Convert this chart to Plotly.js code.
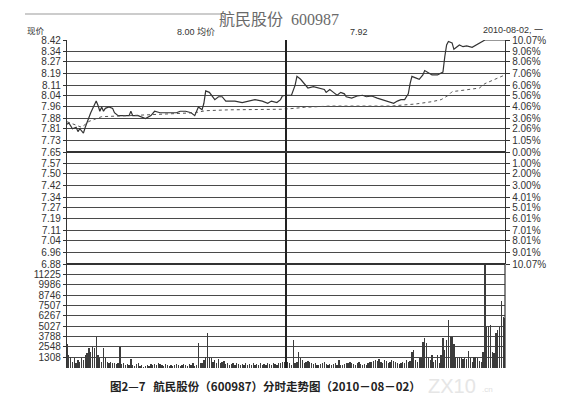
<!DOCTYPE html>
<html>
<head>
<meta charset="utf-8">
<script src="https://cdn.plot.ly/plotly-3.0.1.min.js"></script>
<style>
html,body{margin:0;padding:0;background:#fff;}
#chart{width:567px;height:413px;}
</style>
</head>
<body>
<div id="chart"></div>
<script>
// ---- data ----
const prevClose = 7.65;
const priceTickLabels = ["8.42","8.34","8.27","8.19","8.11","8.04","7.96","7.88","7.81","7.73","7.65","7.57","7.50","7.42","7.34","7.27","7.19","7.11","7.04","6.96","6.88"];
const pctTickLabels = ["10.07%","9.06%","8.06%","7.06%","6.06%","5.06%","4.06%","3.06%","2.06%","1.05%","0.00%","1.00%","2.00%","3.00%","4.01%","5.01%","6.01%","7.01%","8.01%","9.01%","10.07%"];
const volTicks = [1308,2548,3788,5027,6267,7507,8746,9986,11225];

// price line: minute index (0 = 9:30, 120 = 11:30/13:00, 240 = 15:00)
const priceMin = [0,1,3,5,6,7,9,10,13,16,17,18,19,20,21,23,25,26,28,34,35,36,39,43,46,48,51,54,57,60,62,65,68,70,72,74,75,76,78,80,81,83,85,87,92,96,100,103,107,110,112,115,117,118,120,
  123,125,126,128,130,132,135,138,141,142,144,146,148,150,152,153,156,159,162,164,167,170,173,176,179,181,183,185,187,188,189,191,193,195,196,198,200,203,205,206,207,208,209,211,212,214,215,217,219,222,224,226,227,229,240];
const priceVal = [7.84,7.85,7.81,7.82,7.79,7.81,7.78,7.82,7.92,8.00,7.97,7.93,7.96,7.93,7.95,7.96,7.95,7.92,7.90,7.90,7.93,7.90,7.90,7.88,7.90,7.93,7.92,7.92,7.92,7.92,7.93,7.93,7.92,7.90,7.96,7.94,7.985,8.07,8.06,8.03,8.01,8.03,8.03,8.00,8.00,7.99,8.00,8.01,8.00,7.985,8.00,7.99,8.01,8.035,8.04,
  8.04,8.11,8.17,8.15,8.12,8.09,8.10,8.09,8.08,8.06,8.08,8.06,8.04,8.06,8.05,8.03,8.02,8.035,8.04,8.03,8.035,8.02,8.01,8.00,7.985,8.00,8.01,8.01,8.05,8.12,8.17,8.16,8.15,8.18,8.21,8.195,8.18,8.18,8.195,8.20,8.305,8.386,8.41,8.40,8.356,8.38,8.386,8.374,8.38,8.37,8.386,8.40,8.41,8.42,8.42];

// average price line
const avgMin = [0,8,12,16,19,34,52,70,76,89,118,120,121,130,144,178,184,191,200,205,209,211,218,226,229,235,240];
const avgVal = [7.858,7.82,7.86,7.88,7.893,7.90,7.91,7.92,7.934,7.94,7.944,7.95,7.946,7.957,7.966,7.966,7.973,7.98,7.996,8.01,8.04,8.065,8.076,8.09,8.12,8.15,8.18];

// per-minute volume (hands)
const volAM = [2900,1568,1368,768,1168,568,968,768,1168,968,1568,1768,2368,1968,2568,2368,3768,1568,1168,768,2368,1168,768,568,768,568,648,488,568,2568,
  448,568,368,488,368,1048,368,248,488,568,248,368,168,248,368,248,488,368,488,368,568,488,368,248,488,368,248,368,248,368,
  488,368,248,368,488,368,248,488,368,568,248,368,3048,568,568,968,1368,4168,1368,1168,768,968,568,1048,568,768,888,488,568,368,
  488,568,368,648,488,368,488,368,568,368,488,368,568,368,488,368,568,368,488,368,568,488,368,568,488,368,568,648,768,768,900];
const volPM = [768,568,368,3368,568,768,1968,1168,968,568,768,848,768,568,448,568,368,368,448,568,688,448,368,448,368,448,568,368,968,368,
  368,448,568,568,688,568,448,368,568,688,448,368,448,368,568,688,768,848,968,848,1088,768,568,968,848,568,688,968,848,768,
  568,448,568,688,568,968,768,848,1968,2168,968,768,1168,1368,3088,3648,2968,1168,968,1568,768,968,1568,568,1568,3648,2168,3368,5768,3768,
  3768,2848,1368,1168,1368,1368,1088,1168,1088,2048,1168,768,1368,1368,1168,848,768,1900,12400,4888,5048,5168,1968,1768,4168,4568,4968,8088,6168,5968];

// ---- build ----
const volAll = volAM.concat(volPM);
const volMin = volAll.map((v, i) => i);
const priceTickVals = priceTickLabels.map(Number);

const L = 67, R = 505, T = 40, B = 368;
const px = x => (x - L) / (R - L);
const py = y => (B - y) / (B - T);
const split = py(264);

const traces = [
  {x: priceMin, y: priceVal, type: 'scatter', mode: 'lines', xaxis: 'x', yaxis: 'y',
   line: {color: '#333', width: 1.2}, hoverinfo: 'skip'},
  {x: avgMin, y: avgVal, type: 'scatter', mode: 'lines', xaxis: 'x', yaxis: 'y',
   line: {color: '#555', width: 1, dash: '3px,3px'}, hoverinfo: 'skip'},
  {x: [0, 240], y: [prevClose, prevClose], type: 'scatter', mode: 'lines', xaxis: 'x', yaxis: 'y2',
   line: {color: 'rgba(0,0,0,0)', width: 0}, hoverinfo: 'skip'},
  {x: volMin, y: volAll, type: 'bar', xaxis: 'x2', yaxis: 'y3',
   marker: {color: '#3c3c3c', line: {width: 0}}, width: 0.7, hoverinfo: 'skip'}
];

const tickFont = {family: 'Liberation Sans, Arial, sans-serif', size: 10, color: '#333'};
const cjk = 'Noto Sans CJK SC, sans-serif';

const layout = {
  width: 567, height: 413,
  margin: {l: L, r: 567 - R, t: T, b: 413 - B},
  paper_bgcolor: '#fff', plot_bgcolor: '#fff',
  showlegend: false, bargap: 0,
  xaxis: {domain: [0, 1], range: [0, 240], anchor: 'y', showticklabels: false, showgrid: false, zeroline: false, ticks: ''},
  xaxis2: {domain: [0, 1], range: [0, 240], anchor: 'y3', showticklabels: false, showgrid: false, zeroline: false, ticks: ''},
  yaxis: {domain: [split, 1], range: [6.88, 8.42], tickvals: priceTickVals, ticktext: priceTickLabels,
          showgrid: true, gridcolor: '#4a4a4a', gridwidth: 1, zeroline: false,
          showline: true, linecolor: '#333', linewidth: 1.2, ticks: 'outside', ticklen: 3, tickcolor: '#333',
          tickfont: tickFont},
  yaxis2: {overlaying: 'y', side: 'right', anchor: 'x', range: [6.88, 8.42], tickvals: priceTickVals, ticktext: pctTickLabels,
           showgrid: false, zeroline: false, showline: true, linecolor: '#333', linewidth: 1.2,
           ticks: 'outside', ticklen: 4, tickcolor: '#333', tickfont: tickFont},
  yaxis3: {domain: [0, split], range: [0, 12465], tickvals: volTicks, ticktext: volTicks.map(String),
           showgrid: true, gridcolor: '#4a4a4a', gridwidth: 1, zeroline: false,
           showline: true, linecolor: '#333', linewidth: 1.2, ticks: 'outside', ticklen: 3, tickcolor: '#333',
           tickfont: tickFont},
  shapes: [
    {type: 'line', xref: 'x', yref: 'paper', x0: 120, x1: 120, y0: 0, y1: 1, line: {color: '#222', width: 2}},
    {type: 'line', xref: 'paper', yref: 'y', x0: 0, x1: 1, y0: prevClose, y1: prevClose, line: {color: '#333', width: 2}},
    {type: 'line', xref: 'paper', yref: 'paper', x0: 0, x1: 1, y0: split, y1: split, line: {color: '#333', width: 2}},
    {type: 'line', xref: 'paper', yref: 'paper', x0: 1, x1: 1, y0: 0, y1: split, line: {color: '#333', width: 1.2}},
    {type: 'line', xref: 'paper', yref: 'paper', x0: px(25), x1: px(222), y0: py(14), y1: py(14), line: {color: '#bbb', width: 1.5}}
  ],
  annotations: [
    {text: '航民股份  600987', xref: 'paper', yref: 'paper', x: px(279), y: py(20), xanchor: 'center', yanchor: 'middle', showarrow: false,
     font: {family: 'Liberation Serif, Noto Sans CJK SC, serif', size: 16, color: '#6a6a6a'}},
    {text: '现价', xref: 'paper', yref: 'paper', x: px(25), y: py(30.5), xanchor: 'left', yanchor: 'middle', showarrow: false,
     font: {family: cjk, size: 8.5, color: '#333'}},
    {text: '8.00 均价', xref: 'paper', yref: 'paper', x: px(196), y: py(32), xanchor: 'center', yanchor: 'middle', showarrow: false,
     font: {family: 'Liberation Sans, Noto Sans CJK SC, sans-serif', size: 9, color: '#333'}},
    {text: '7.92', xref: 'paper', yref: 'paper', x: px(359), y: py(32), xanchor: 'center', yanchor: 'middle', showarrow: false,
     font: {family: 'Liberation Sans, sans-serif', size: 9, color: '#333'}},
    {text: '2010-08-02, 一', xref: 'paper', yref: 'paper', x: px(545), y: py(30), xanchor: 'right', yanchor: 'middle', showarrow: false,
     font: {family: 'Liberation Sans, Noto Sans CJK SC, sans-serif', size: 9, color: '#333'}},
    {text: '<b>图2—7   航民股份（600987）分时走势图（2010－08－02）</b>', xref: 'paper', yref: 'paper', x: px(265), y: py(386), xanchor: 'center', yanchor: 'middle', showarrow: false,
     font: {family: cjk, size: 11.5, color: '#222'}},
    {text: 'ZX10', xref: 'paper', yref: 'paper', x: px(426), y: py(386), xanchor: 'left', yanchor: 'middle', showarrow: false,
     font: {family: 'Liberation Sans, sans-serif', size: 20, color: '#e6e6e6'}},
    {text: '.cn', xref: 'paper', yref: 'paper', x: px(480), y: py(389), xanchor: 'left', yanchor: 'middle', showarrow: false,
     font: {family: 'Liberation Sans, sans-serif', size: 8, color: '#e0e0e0'}}
  ]
};

Plotly.newPlot('chart', traces, layout, {staticPlot: true, displayModeBar: false});
</script>
</body>
</html>
